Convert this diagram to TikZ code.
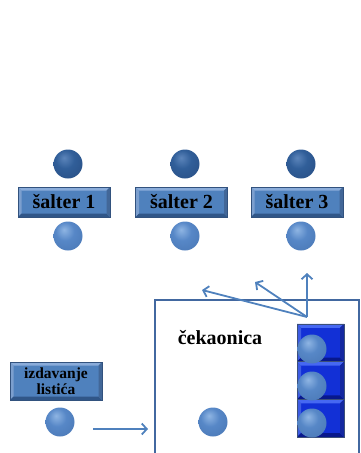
\documentclass[tikz,border=0pt]{standalone}
\usepackage{fontspec}
\setmainfont{Liberation Serif}
\usetikzlibrary{arrows.meta}

\definecolor{boxface}{RGB}{79,129,189}
\definecolor{boxlight}{RGB}{138,172,218}
\definecolor{boxshade}{RGB}{48,86,136}
\definecolor{boxedge}{RGB}{50,82,126}
\definecolor{qface}{RGB}{18,48,214}
\definecolor{qlight}{RGB}{70,104,242}
\definecolor{qshade}{RGB}{8,24,140}
\definecolor{qedge}{RGB}{60,80,120}
\definecolor{flowblue}{RGB}{79,129,189}
\definecolor{wallblue}{RGB}{66,104,160}

% spherical shadings for the dark (served) and light (waiting) clients
\pgfdeclareradialshading{darksphere}{\pgfpoint{-7bp}{11bp}}{%
  rgb(0bp)=(0.36,0.52,0.73); rgb(16bp)=(0.19,0.37,0.60);
  rgb(38bp)=(0.16,0.31,0.52); rgb(50bp)=(0.10,0.20,0.36);
  rgb(64bp)=(0.04,0.08,0.16)}
\pgfdeclareradialshading{lightsphere}{\pgfpoint{-7bp}{11bp}}{%
  rgb(0bp)=(0.56,0.71,0.89); rgb(16bp)=(0.34,0.53,0.78);
  rgb(38bp)=(0.29,0.47,0.71); rgb(50bp)=(0.18,0.31,0.49);
  rgb(64bp)=(0.07,0.13,0.24)}

% bevelled face: light top/left edges, dark bottom/right edges
\newcommand\bevelfaces[3]{%
  \fill[#1] (path picture bounding box.north west) -- (path picture bounding box.north east)
    -- ([xshift=-#3,yshift=-#3]path picture bounding box.north east)
    -- ([xshift=#3,yshift=-#3]path picture bounding box.north west) -- cycle;
  \fill[#1!85!#2] (path picture bounding box.north west) -- (path picture bounding box.south west)
    -- ([xshift=#3,yshift=#3]path picture bounding box.south west)
    -- ([xshift=#3,yshift=-#3]path picture bounding box.north west) -- cycle;
  \fill[#2] (path picture bounding box.south west) -- (path picture bounding box.south east)
    -- ([xshift=-#3,yshift=#3]path picture bounding box.south east)
    -- ([xshift=#3,yshift=#3]path picture bounding box.south west) -- cycle;
  \fill[#2!80!#1] (path picture bounding box.north east) -- (path picture bounding box.south east)
    -- ([xshift=-#3,yshift=#3]path picture bounding box.south east)
    -- ([xshift=-#3,yshift=-#3]path picture bounding box.north east) -- cycle;}

\begin{document}
\begin{tikzpicture}[x=1pt,y=-1pt,
  counter/.style={draw=boxedge, line width=0.8pt, fill=boxface,
    minimum width=92pt, minimum height=30pt, inner sep=0pt,
    font=\bfseries\fontsize{20}{22}\selectfont,
    path picture={\bevelfaces{boxlight}{boxshade}{3.5pt}}},
  slot/.style={draw=qedge, line width=0.8pt, fill=qface,
    minimum width=47pt, minimum height=37.7pt, inner sep=0pt,
    path picture={\bevelfaces{qlight}{qshade}{4pt}}},
  darkball/.style={circle, minimum size=29pt, inner sep=0pt, shade, shading=darksphere},
  lightball/.style={circle, minimum size=29pt, inner sep=0pt, shade, shading=lightsphere},
  flow/.style={draw=flowblue, line width=1.8pt, -{Straight Barb[length=5pt,width=11pt]}},
  wall/.style={draw=wallblue, line width=2.2pt}]
\useasboundingbox (0,0) rectangle (361,453);

% counters with the client being served above and the next one below
\node[counter] (c1) at (64,202) {šalter 1};
\node[counter] (c2) at (181.5,202) {šalter 2};
\node[counter] (c3) at (297,202) {šalter 3};
\node[darkball] (s1) at (68,164) {};
\node[darkball] (s2) at (185,164) {};
\node[darkball] (s3) at (301,164) {};
\node[lightball] (n1) at (68,236) {};
\node[lightball] (n2) at (185,236) {};
\node[lightball] (n3) at (301,236) {};

% waiting room
\draw[wall] (155,453) -- (155,300) -- (359,300) -- (359,453);
\node[font=\bfseries\fontsize{20}{22}\selectfont] (room) at (220,338) {čekaonica};
\node[lightball] (w) at (213,422) {};

% queue
\node[slot] (q1) at (320.5,342.8) {};
\node[slot] (q2) at (320.5,380.5) {};
\node[slot] (q3) at (320.5,418.2) {};
\node[lightball] (p1) at (312,349) {};
\node[lightball] (p2) at (312,386) {};
\node[lightball] (p3) at (312,423) {};

% ticket machine
\node[counter, minimum height=38pt, align=center,
  font=\bfseries\fontsize{15.5}{15.5}\selectfont] (issue) at (56,381) {izdavanje\\listića};
\node[lightball] (arr) at (60,422) {};

% flows
\coordinate (in0) at (93,429);
\coordinate (in1) at (148,429);
\draw[flow] (in0) -- (in1);
\coordinate (fork) at (307,317);
\coordinate (go1) at (202,290);
\coordinate (go2) at (255,282);
\coordinate (go3) at (307,273);
\draw[flow] (fork) -- (go1);
\draw[flow] (fork) -- (go2);
\draw[flow] (fork) -- (go3);
\end{tikzpicture}
\end{document}
